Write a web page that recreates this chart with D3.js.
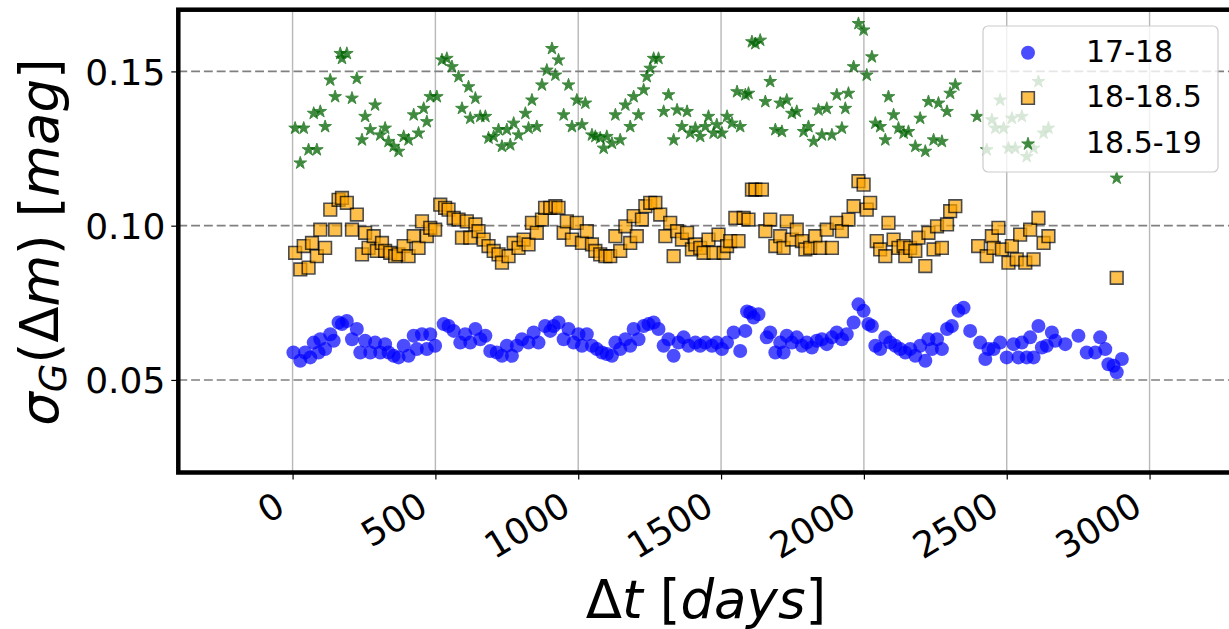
<!DOCTYPE html>
<html><head><meta charset="utf-8">
<script src="https://cdn.jsdelivr.net/npm/d3@7"></script>
<style>body{margin:0;background:#fff}svg{display:block}text{font-family:"DejaVu Sans",sans-serif}</style>
</head><body><svg id="c" width="1229" height="629"></svg>
<script>
const xTicks=[0,500,1000,1500,2000,2500,3000];
const yTicks=[0.05,0.10,0.15];
const seriesNames=["17-18","18-18.5","18.5-19"];
const mag17_18=[[3,0.0589],[27,0.0562],[44,0.0589],[62,0.0573],[74,0.0621],[91,0.0589],[97,0.0632],[114,0.0600],[132,0.0648],[144,0.0627],[161,0.0686],[173,0.0681],[190,0.0691],[208,0.0632],[225,0.0665],[237,0.0589],[254,0.0627],[272,0.0589],[289,0.0621],[307,0.0589],[324,0.0616],[336,0.0589],[354,0.0578],[371,0.0573],[389,0.0611],[406,0.0578],[424,0.0643],[435,0.0600],[453,0.0648],[470,0.0600],[482,0.0648],[499,0.0611],[529,0.0681],[546,0.0675],[564,0.0659],[587,0.0621],[604,0.0648],[622,0.0621],[640,0.0665],[657,0.0632],[675,0.0643],[692,0.0594],[715,0.0589],[733,0.0578],[750,0.0611],[768,0.0578],[785,0.0611],[803,0.0632],[826,0.0621],[844,0.0654],[861,0.0621],[884,0.0675],[902,0.0659],[914,0.0675],[931,0.0686],[949,0.0632],[966,0.0665],[984,0.0621],[1001,0.0648],[1013,0.0611],[1030,0.0648],[1048,0.0611],[1065,0.0600],[1083,0.0589],[1100,0.0584],[1118,0.0578],[1130,0.0621],[1147,0.0600],[1165,0.0632],[1182,0.0611],[1194,0.0665],[1211,0.0632],[1229,0.0675],[1246,0.0681],[1264,0.0686],[1281,0.0665],[1299,0.0611],[1316,0.0632],[1334,0.0578],[1351,0.0621],[1369,0.0638],[1386,0.0611],[1410,0.0621],[1427,0.0611],[1445,0.0621],[1468,0.0611],[1485,0.0621],[1503,0.0600],[1521,0.0621],[1544,0.0654],[1567,0.0594],[1585,0.0659],[1591,0.0722],[1602,0.0718],[1614,0.0702],[1631,0.0713],[1660,0.0638],[1672,0.0654],[1690,0.0589],[1707,0.0621],[1719,0.0589],[1730,0.0643],[1748,0.0621],[1765,0.0638],[1783,0.0611],[1800,0.0621],[1818,0.0605],[1835,0.0627],[1853,0.0632],[1870,0.0616],[1888,0.0638],[1905,0.0654],[1923,0.0632],[1940,0.0648],[1964,0.0686],[1981,0.0745],[1999,0.0724],[2016,0.0681],[2028,0.0675],[2040,0.0611],[2057,0.0600],[2075,0.0638],[2092,0.0621],[2110,0.0611],[2127,0.0600],[2145,0.0589],[2162,0.0600],[2180,0.0578],[2197,0.0611],[2215,0.0562],[2226,0.0632],[2238,0.0600],[2256,0.0632],[2273,0.0600],[2291,0.0665],[2308,0.0675],[2331,0.0724],[2349,0.0734],[2372,0.0659],[2407,0.0621],[2425,0.0568],[2436,0.0600],[2454,0.0600],[2477,0.0621],[2500,0.0573],[2524,0.0616],[2541,0.0573],[2553,0.0621],[2570,0.0573],[2582,0.0638],[2594,0.0573],[2611,0.0675],[2623,0.0605],[2640,0.0611],[2658,0.0654],[2670,0.0627],[2705,0.0616],[2751,0.0643],[2780,0.0589],[2810,0.0589],[2827,0.0638],[2845,0.0600],[2856,0.0551],[2874,0.0546],[2885,0.0525],[2903,0.0568]];
const mag18_185=[[9,0.0912],[27,0.0858],[39,0.0934],[56,0.0864],[68,0.0944],[85,0.0901],[97,0.0987],[114,0.0928],[132,0.1052],[149,0.0987],[161,0.1084],[173,0.1090],[190,0.1074],[208,0.0987],[225,0.1036],[243,0.0907],[254,0.0977],[266,0.0928],[284,0.0966],[295,0.0918],[313,0.0944],[324,0.0918],[342,0.0912],[359,0.0901],[371,0.0907],[389,0.0934],[406,0.0901],[424,0.0966],[441,0.0928],[453,0.1014],[470,0.0966],[482,0.0993],[499,0.0987],[517,0.1068],[534,0.1058],[546,0.1052],[564,0.1025],[581,0.1020],[593,0.0961],[610,0.1014],[622,0.0961],[640,0.1004],[651,0.0982],[669,0.0955],[686,0.0934],[704,0.0918],[721,0.0907],[733,0.0880],[756,0.0901],[774,0.0944],[791,0.0928],[809,0.0955],[826,0.0939],[838,0.1009],[855,0.0977],[873,0.1020],[884,0.1058],[902,0.1058],[920,0.1063],[931,0.1058],[949,0.0977],[960,0.1014],[978,0.0955],[995,0.1009],[1013,0.0944],[1030,0.0982],[1048,0.0939],[1060,0.0918],[1077,0.0907],[1095,0.0901],[1112,0.0901],[1130,0.0966],[1147,0.0918],[1165,0.0998],[1182,0.0944],[1194,0.1031],[1205,0.0966],[1223,0.1020],[1235,0.1063],[1252,0.1074],[1270,0.1074],[1287,0.1036],[1305,0.0966],[1322,0.1009],[1334,0.0901],[1346,0.0982],[1363,0.0955],[1381,0.0977],[1398,0.0923],[1410,0.0939],[1427,0.0928],[1439,0.0912],[1456,0.0955],[1474,0.0912],[1491,0.0971],[1509,0.0912],[1521,0.0934],[1532,0.0950],[1550,0.1025],[1561,0.0950],[1579,0.1025],[1596,0.1020],[1608,0.1117],[1620,0.1117],[1643,0.1117],[1655,0.0982],[1672,0.1020],[1690,0.0934],[1707,0.0966],[1719,0.0928],[1730,0.1014],[1748,0.0955],[1765,0.0987],[1783,0.0950],[1795,0.0923],[1812,0.0928],[1830,0.0966],[1847,0.0928],[1870,0.0987],[1888,0.0928],[1905,0.1009],[1923,0.0982],[1946,0.1020],[1964,0.1063],[1981,0.1144],[1999,0.1133],[2010,0.1052],[2022,0.1074],[2045,0.0950],[2057,0.0923],[2075,0.0901],[2086,0.1009],[2104,0.0955],[2121,0.0928],[2139,0.0934],[2145,0.0901],[2162,0.0928],[2180,0.0918],[2191,0.0961],[2215,0.0869],[2226,0.0977],[2244,0.0923],[2256,0.0998],[2273,0.0928],[2291,0.1004],[2302,0.1047],[2320,0.1063],[2400,0.0934],[2430,0.0901],[2448,0.0966],[2454,0.0928],[2471,0.0993],[2483,0.0923],[2506,0.0880],[2518,0.0934],[2535,0.0891],[2547,0.0971],[2565,0.0880],[2582,0.0987],[2594,0.0891],[2611,0.1025],[2629,0.0944],[2646,0.0966],[2885,0.0831]];
const mag185_19=[[9,0.1316],[27,0.1203],[39,0.1316],[56,0.1246],[74,0.1364],[85,0.1246],[97,0.1370],[114,0.1321],[132,0.1472],[149,0.1418],[167,0.1558],[173,0.1542],[190,0.1558],[208,0.1413],[225,0.1477],[243,0.1278],[254,0.1354],[272,0.1311],[289,0.1391],[307,0.1294],[324,0.1316],[336,0.1273],[354,0.1257],[371,0.1241],[389,0.1289],[406,0.1278],[424,0.1359],[441,0.1300],[459,0.1380],[470,0.1337],[482,0.1418],[505,0.1418],[523,0.1537],[540,0.1542],[558,0.1515],[581,0.1483],[593,0.1380],[616,0.1450],[622,0.1348],[640,0.1413],[657,0.1354],[675,0.1354],[686,0.1284],[704,0.1289],[721,0.1311],[733,0.1257],[750,0.1311],[762,0.1262],[774,0.1332],[791,0.1294],[815,0.1364],[826,0.1316],[838,0.1407],[855,0.1321],[873,0.1456],[890,0.1504],[908,0.1574],[920,0.1488],[931,0.1537],[949,0.1359],[966,0.1456],[978,0.1321],[995,0.1407],[1013,0.1327],[1025,0.1397],[1048,0.1294],[1060,0.1289],[1077,0.1284],[1089,0.1251],[1100,0.1289],[1118,0.1267],[1130,0.1359],[1147,0.1278],[1165,0.1391],[1182,0.1321],[1194,0.1418],[1211,0.1359],[1229,0.1440],[1240,0.1483],[1252,0.1510],[1264,0.1542],[1281,0.1542],[1299,0.1370],[1316,0.1424],[1334,0.1278],[1346,0.1375],[1363,0.1321],[1381,0.1370],[1392,0.1300],[1410,0.1316],[1427,0.1289],[1445,0.1321],[1456,0.1354],[1474,0.1300],[1485,0.1327],[1503,0.1300],[1521,0.1354],[1538,0.1332],[1556,0.1434],[1567,0.1321],[1585,0.1424],[1596,0.1429],[1608,0.1596],[1620,0.1590],[1637,0.1601],[1655,0.1402],[1672,0.1467],[1690,0.1311],[1707,0.1397],[1713,0.1305],[1730,0.1407],[1748,0.1364],[1765,0.1370],[1789,0.1305],[1806,0.1321],[1824,0.1273],[1841,0.1375],[1853,0.1294],[1870,0.1380],[1888,0.1294],[1905,0.1424],[1923,0.1316],[1935,0.1380],[1946,0.1429],[1964,0.1515],[1981,0.1655],[1999,0.1634],[2010,0.1488],[2028,0.1547],[2040,0.1332],[2057,0.1321],[2075,0.1278],[2086,0.1418],[2104,0.1359],[2121,0.1316],[2139,0.1300],[2156,0.1305],[2180,0.1257],[2197,0.1348],[2215,0.1241],[2226,0.1402],[2244,0.1278],[2261,0.1397],[2273,0.1273],[2291,0.1370],[2302,0.1429],[2320,0.1456],[2396,0.1354],[2430,0.1246],[2448,0.1343],[2460,0.1316],[2477,0.1407],[2489,0.1316],[2506,0.1251],[2518,0.1348],[2530,0.1251],[2553,0.1354],[2570,0.1224],[2594,0.1251],[2611,0.1467],[2629,0.1300],[2646,0.1316],[2885,0.1154]];

const svg=d3.select("#c");
const L=178.3,R=1232.4,T=9.7,B=472.5;
const x=d3.scaleLinear().domain([-400,3290]).range([L,R]);
const y=d3.scaleLinear().domain([0.02,0.17]).range([B,T]);

// grid
svg.append("g").selectAll("line").data(xTicks).join("line")
  .attr("x1",d=>x(d)).attr("x2",d=>x(d)).attr("y1",T).attr("y2",B)
  .attr("stroke","#b8b8b8").attr("stroke-width",1.4);
svg.append("g").selectAll("line").data(yTicks).join("line")
  .attr("x1",L).attr("x2",R).attr("y1",d=>y(d)).attr("y2",d=>y(d))
  .attr("stroke","#808080").attr("stroke-width",1.6).attr("stroke-dasharray","8.9,3.9");

// points
svg.append("clipPath").attr("id","pc").append("rect").attr("x",L).attr("y",T).attr("width",R-L).attr("height",B-T);
const pg=svg.append("g").attr("clip-path","url(#pc)");
const sq=d3.symbol().type(d3.symbolSquare).size(160);
const st=d3.symbol().type(d3.symbolStar).size(50);
function drawCircle(g){g.attr("r",7).attr("fill","#0000ff").attr("opacity",0.7);}
function drawSquare(g){g.attr("d",sq()).attr("fill","#ffa500").attr("stroke","#000").attr("stroke-width",1.6).attr("opacity",0.7);}
function drawStar(g){g.attr("d",st()).attr("fill","#006400").attr("stroke","#006400").attr("stroke-width",1).attr("opacity",0.75);}
pg.append("g").selectAll("circle").data(mag17_18).join("circle")
  .attr("cx",d=>x(d[0])).attr("cy",d=>y(d[1])).call(drawCircle);
pg.append("g").selectAll("path").data(mag18_185).join("path")
  .attr("transform",d=>`translate(${x(d[0])},${y(d[1])})`).call(drawSquare);
pg.append("g").selectAll("path").data(mag185_19).join("path")
  .attr("transform",d=>`translate(${x(d[0])},${y(d[1])})`).call(drawStar);

// axes
const xa=svg.append("g").attr("transform",`translate(0,${B})`)
  .call(d3.axisBottom(x).tickValues(xTicks).tickFormat(d3.format("d")).tickSize(7));
xa.select(".domain").remove();
xa.selectAll(".tick line").attr("stroke","#000").attr("stroke-width",1.2);
xa.selectAll(".tick text").attr("x",0).attr("y",0).attr("dy",0)
  .attr("transform","translate(-6,40) rotate(-31)").attr("text-anchor","end")
  .attr("font-size",36).attr("fill","#000").attr("font-family","DejaVu Sans");
const ya=svg.append("g").attr("transform",`translate(${L},0)`)
  .call(d3.axisLeft(y).tickValues(yTicks).tickFormat(d3.format(".2f")).tickSize(7));
ya.select(".domain").remove();
ya.selectAll(".tick line").attr("stroke","#000").attr("stroke-width",1.2);
ya.selectAll(".tick text").attr("x",-13).attr("dy","0.36em")
  .attr("font-size",36).attr("fill","#000").attr("font-family","DejaVu Sans");

// frame
svg.append("rect").attr("x",L).attr("y",T).attr("width",R-L).attr("height",B-T)
  .attr("fill","none").attr("stroke","#000").attr("stroke-width",4.5);

// axis labels
const xl=svg.append("text").attr("x",706).attr("y",618).attr("text-anchor","middle").attr("font-size",53);
xl.append("tspan").text("Δ");
xl.append("tspan").attr("font-style","italic").text("t");
xl.append("tspan").text(" [");
xl.append("tspan").attr("font-style","italic").text("days");
xl.append("tspan").text("]");
const yl=svg.append("text").attr("transform","translate(58,242) rotate(-90)").attr("text-anchor","middle").attr("font-size",53);
yl.append("tspan").attr("font-style","italic").text("σ");
yl.append("tspan").attr("font-style","italic").attr("font-size",37).attr("dy",8).text("G");
yl.append("tspan").attr("dy",-8).text("(Δ");
yl.append("tspan").attr("font-style","italic").text("m");
yl.append("tspan").text(") [");
yl.append("tspan").attr("font-style","italic").text("mag");
yl.append("tspan").text("]");

// legend
const lg=svg.append("g");
lg.append("rect").attr("x",983).attr("y",26).attr("width",235).attr("height",146).attr("rx",5)
  .attr("fill","#fff").attr("fill-opacity",0.8).attr("stroke","#cccccc").attr("stroke-width",1.2);
const rowsY=[52.7,98,144];
lg.append("circle").attr("cx",1028).attr("cy",rowsY[0]).call(drawCircle);
lg.append("path").attr("transform",`translate(1028,${rowsY[1]})`).call(drawSquare);
lg.append("path").attr("transform",`translate(1028,${rowsY[2]})`).call(drawStar);
lg.selectAll("text.lt").data(seriesNames).join("text").attr("class","lt")
  .attr("x",1086).attr("y",(d,i)=>[61.7,107.3,152.7][i]).attr("font-size",30).attr("fill","#000").text(d=>d);
</script></body></html>
